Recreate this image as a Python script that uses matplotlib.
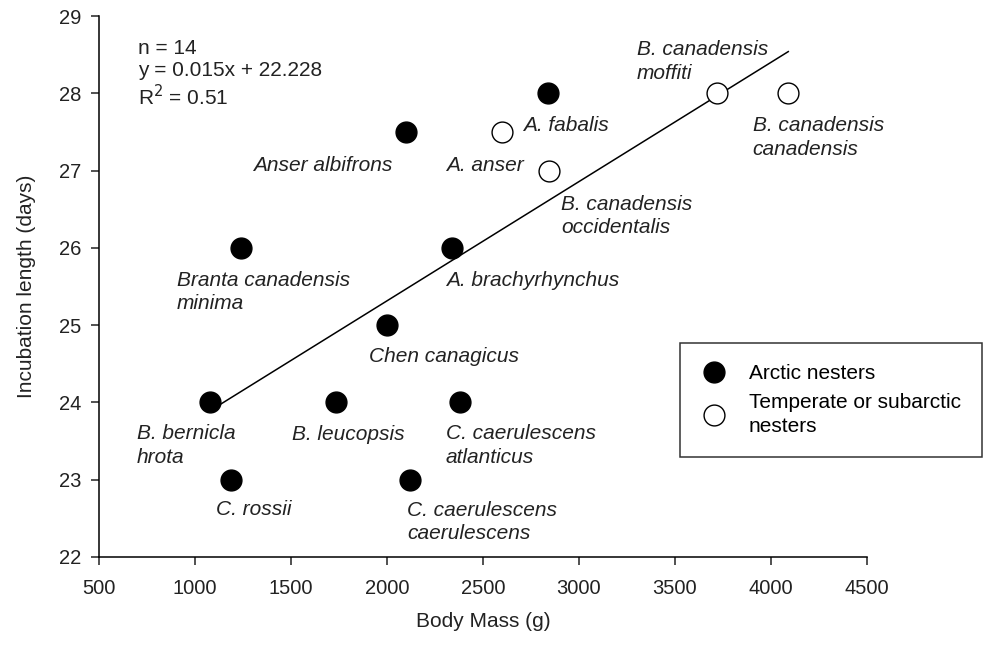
import numpy as np
import matplotlib
matplotlib.use("Agg")
import matplotlib.pyplot as plt
from matplotlib.lines import Line2D

plt.rcParams['font.family'] = ['Liberation Sans', 'DejaVu Sans']

# arctic nesters (filled)
arctic_mass = [1080, 1185, 1240, 1735, 2000, 2100, 2120, 2340, 2380, 2840]
arctic_days = [24, 23, 26, 24, 25, 27.5, 23, 26, 24, 28]

# temperate or subarctic nesters (open)
temperate_mass = [2600, 2845, 3720, 4090]
temperate_days = [27.5, 27, 28, 28]

species = ["B. bernicla\nhrota", "C. rossii", "Branta canadensis\nminima",
           "B. leucopsis", "Chen canagicus", "Anser albifrons",
           "C. caerulescens\ncaerulescens", "A. brachyrhynchus",
           "C. caerulescens\natlanticus", "A. fabalis",
           "A. anser", "B. canadensis\noccidentalis",
           "B. canadensis\nmoffiti", "B. canadensis\ncanadensis"]

# where each name sits (left edge, vertical centre), data units
label_pos = [(698, 23.44), (1109, 22.61), (905, 25.43),
             (1507, 23.59), (1908, 24.59), (1304, 27.07),
             (2106, 22.45), (2306, 25.58),
             (2306, 23.44), (2707, 27.58),
             (2306, 27.07), (2906, 26.41),
             (3300, 28.41), (3905, 27.43)]

stats_text = "n = 14\ny = 0.015x + 22.228\nR$^2$ = 0.51"

fig = plt.figure(figsize=(9.93, 6.48), dpi=100)
ax = fig.add_axes([99 / 993, 1 - 557 / 648, 768 / 993, 541 / 648])

# regression line over the observed mass range
all_mass = np.array(arctic_mass + temperate_mass)
all_days = np.array(arctic_days + temperate_days)
slope, icpt = np.polyfit(all_mass, all_days, 1)
xs = np.array([all_mass.min(), all_mass.max()])
ax.plot(xs, slope * xs + icpt, color='black', lw=1.1, zorder=2)

ax.scatter(arctic_mass, arctic_days, s=225, c='black', edgecolors='black',
           linewidths=1, zorder=3)
ax.scatter(temperate_mass, temperate_days, s=225, c='white', edgecolors='black',
           linewidths=1, zorder=3)

for name, (lx, ly) in zip(species, label_pos):
    ax.text(lx, ly, name, fontsize=15, style='italic', ha='left', va='center',
            linespacing=1.3, color='#222222')

ax.text(701, 28.25, stats_text, fontsize=15, ha='left', va='center',
        linespacing=1.2, color='#222222')

ax.set_xlim(500, 4500)
ax.set_ylim(22, 29)
ax.set_xticks(np.arange(500, 4501, 500))
ax.set_yticks(np.arange(22, 30, 1))
for sp in ['top', 'right']:
    ax.spines[sp].set_visible(False)
ax.spines['left'].set_linewidth(1.1)
ax.spines['bottom'].set_linewidth(1.1)
ax.tick_params(axis='both', direction='out', length=6, width=1.1, labelsize=14.5,
               colors='#222222')
ax.tick_params(axis='x', pad=10)
ax.tick_params(axis='y', pad=7)

ax.set_xlabel("Body Mass (g)", fontsize=15, labelpad=10, color='#222222')
ax.set_ylabel("Incubation length (days)", fontsize=15, labelpad=16, color='#222222')

handles = [Line2D([], [], ls='none', marker='o', ms=15, mfc='black', mec='black'),
           Line2D([], [], ls='none', marker='o', ms=15, mfc='white', mec='black')]
leg = ax.legend(handles, ["Arctic nesters", "Temperate or subarctic\nnesters"],
                loc='upper left', bbox_to_anchor=(680 / 993, 1 - 343 / 648),
                bbox_transform=fig.transFigure, fontsize=15, frameon=True,
                fancybox=False, edgecolor='black', handletextpad=1.0,
                borderpad=1.0, borderaxespad=0, labelspacing=0.5,
                handlelength=1.3)
leg.get_frame().set_linewidth(1.1)
for t in leg.get_texts():
    t.set_linespacing(1.3)

fig.savefig("out.png", dpi=100)
